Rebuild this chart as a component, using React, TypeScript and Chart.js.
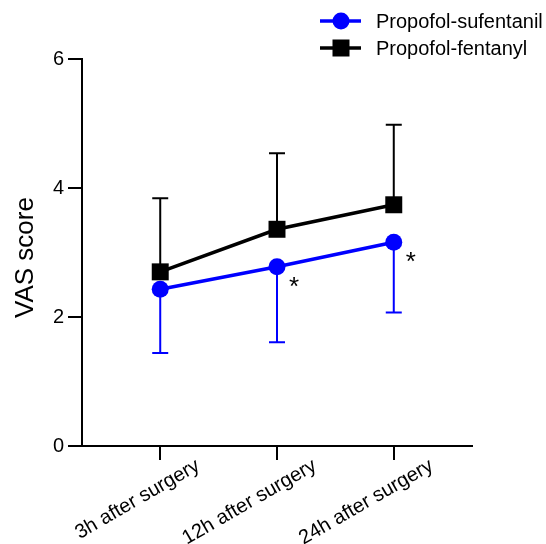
import React, { useEffect, useRef } from "react";
import { Chart, registerables } from "chart.js";

Chart.register(...registerables);

const categories = ["3h after surgery", "12h after surgery", "24h after surgery"];
const sufentanilMean = [2.43, 2.78, 3.16];
const sufentanilLower = [1.44, 1.61, 2.07];
const fentanylMean = [2.70, 3.36, 3.74];
const fentanylUpper = [3.84, 4.54, 4.98];
const significant = [false, true, true];
const yTicks = [0, 2, 4, 6];
const yTitle = "VAS score";

const FONT = "'Liberation Sans', Arial, sans-serif";

export default function App() {
  const ref = useRef<HTMLCanvasElement>(null);
  useEffect(() => {
    document.body.style.margin = "0";
    const canvas = ref.current!;
    const xs = categories.map((_, i) => i + 1);

    const errorPlugin = {
      id: "errorBars",
      beforeDatasetsDraw(chart: any) {
        const ctx = chart.ctx;
        const xS = chart.scales.x;
        const yS = chart.scales.y;
        const draw = (mean: number[], ends: number[], color: string) => {
          ctx.save();
          ctx.strokeStyle = color;
          ctx.lineWidth = 2;
          mean.forEach((m, i) => {
            const px = xS.getPixelForValue(xs[i]);
            const y0 = yS.getPixelForValue(m);
            const y1 = yS.getPixelForValue(ends[i]);
            ctx.beginPath();
            ctx.moveTo(px, y0);
            ctx.lineTo(px, y1);
            ctx.moveTo(px - 8, y1);
            ctx.lineTo(px + 8, y1);
            ctx.stroke();
          });
          ctx.restore();
        };
        draw(fentanylMean, fentanylUpper, "#000000");
        draw(sufentanilMean, sufentanilLower, "#0000ff");
      },
      afterDraw(chart: any) {
        const ctx = chart.ctx;
        const xS = chart.scales.x;
        const yS = chart.scales.y;
        ctx.save();
        ctx.fillStyle = "#000";
        ctx.font = `26px ${FONT}`;
        ctx.textAlign = "center";
        ctx.textBaseline = "middle";
        significant.forEach((s, i) => {
          if (!s) return;
          const px = xS.getPixelForValue(xs[i]);
          const py = yS.getPixelForValue(sufentanilMean[i]);
          ctx.fillText("*", px + 17, py + 21);
        });
        // y title
        ctx.save();
        ctx.translate(26, (chart.chartArea.top + chart.chartArea.bottom) / 2 + 5);
        ctx.rotate(-Math.PI / 2);
        ctx.font = `26px ${FONT}`;
        ctx.textAlign = "center";
        ctx.textBaseline = "middle";
        ctx.fillText(yTitle, 0, 0);
        ctx.restore();
        // legend
        const items = [
          { label: "Propofol-sufentanil", color: "#0000ff", shape: "circle", y: 21 },
          { label: "Propofol-fentanyl", color: "#000000", shape: "square", y: 48 },
        ];
        items.forEach((it) => {
          ctx.strokeStyle = it.color;
          ctx.fillStyle = it.color;
          ctx.lineWidth = 3.5;
          ctx.beginPath();
          ctx.moveTo(320, it.y);
          ctx.lineTo(361, it.y);
          ctx.stroke();
          if (it.shape === "circle") {
            ctx.beginPath();
            ctx.arc(341, it.y, 8.5, 0, Math.PI * 2);
            ctx.fill();
          } else {
            ctx.fillRect(332.5, it.y - 8.5, 17, 17);
          }
          ctx.fillStyle = "#000";
          ctx.font = `20px ${FONT}`;
          ctx.textAlign = "left";
          ctx.textBaseline = "middle";
          ctx.fillText(it.label, 376, it.y + 1);
        });
        ctx.restore();
      },
    };

    const chart = new Chart(canvas, {
      type: "line",
      data: {
        datasets: [
          {
            label: "Propofol-sufentanil",
            data: xs.map((x, i) => ({ x, y: sufentanilMean[i] })),
            borderColor: "#0000ff",
            backgroundColor: "#0000ff",
            borderWidth: 3.5,
            pointStyle: "circle",
            pointRadius: 8.5,
            pointBorderWidth: 0,
          },
          {
            label: "Propofol-fentanyl",
            data: xs.map((x, i) => ({ x, y: fentanylMean[i] })),
            borderColor: "#000000",
            backgroundColor: "#000000",
            borderWidth: 3.5,
            pointStyle: "rect",
            pointRadius: 12,
            pointBorderWidth: 0,
          },
        ],
      },
      options: {
        responsive: false,
        animation: false,
        layout: { padding: { top: 59, right: 74, left: 0, bottom: 0 } },
        plugins: { legend: { display: false }, tooltip: { enabled: false } },
        scales: {
          x: {
            type: "linear",
            min: 0.33,
            max: 3.67,
            afterBuildTicks: (axis: any) => {
              axis.ticks = xs.map((v) => ({ value: v }));
            },
            afterFit: (scale: any) => {
              scale.height = 544 - 446;
            },
            ticks: {
              callback: (v: any) => categories[Number(v) - 1] ?? "",
              minRotation: 30,
              maxRotation: 30,
              color: "#000",
              font: { family: FONT, size: 20 },
              padding: -6,
              labelOffset: 38,
            },
            grid: {
              drawOnChartArea: false,
              drawTicks: true,
              tickLength: 14,
              color: "#000",
              lineWidth: 2,
            },
            border: { display: true, color: "#000", width: 2 },
          },
          y: {
            min: 0,
            max: 6,
            afterBuildTicks: (axis: any) => {
              axis.ticks = yTicks.map((v) => ({ value: v }));
            },
            afterFit: (scale: any) => {
              scale.width = 82;
            },
            ticks: {
              color: "#000",
              font: { family: FONT, size: 20 },
              padding: 4,
            },
            grid: {
              drawOnChartArea: false,
              drawTicks: true,
              tickLength: 14,
              color: "#000",
              lineWidth: 2,
            },
            border: { display: true, color: "#000", width: 2 },
          },
        },
      },
      plugins: [errorPlugin],
    });
    return () => chart.destroy();
  }, []);
  return <canvas ref={ref} width={546} height={544} style={{ display: "block" }} />;
}
